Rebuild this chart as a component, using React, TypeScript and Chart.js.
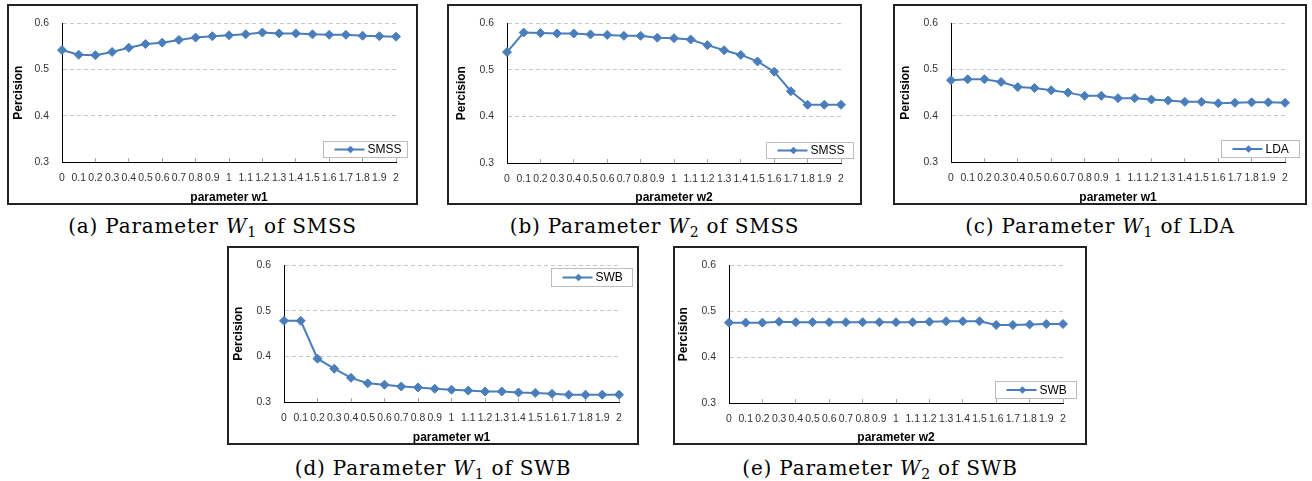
import React, { useEffect, useRef } from "react";
import { Chart, registerables } from "chart.js";

Chart.register(...registerables);

// ---------- data ----------
const wLabels = [
  "0", "0.1", "0.2", "0.3", "0.4", "0.5", "0.6", "0.7", "0.8", "0.9", "1",
  "1.1", "1.2", "1.3", "1.4", "1.5", "1.6", "1.7", "1.8", "1.9", "2",
];

const smssW1 = [
  0.542, 0.532, 0.531, 0.538, 0.547, 0.555, 0.558, 0.564, 0.569, 0.572, 0.574,
  0.576, 0.58, 0.578, 0.578, 0.576, 0.575, 0.575, 0.573, 0.572, 0.571,
];

const smssW2 = [
  0.538, 0.58, 0.579, 0.578, 0.578, 0.576, 0.575, 0.573, 0.573, 0.569, 0.568,
  0.565, 0.553, 0.542, 0.532, 0.518, 0.496, 0.454, 0.425, 0.425, 0.425,
];

const ldaW1 = [
  0.477, 0.479, 0.479, 0.473, 0.462, 0.46, 0.455, 0.45, 0.443, 0.443, 0.438,
  0.438, 0.435, 0.433, 0.43, 0.43, 0.427, 0.428, 0.429, 0.429, 0.428,
];

const swbW1 = [
  0.478, 0.478, 0.395, 0.373, 0.353, 0.341, 0.338, 0.334, 0.332, 0.329, 0.327,
  0.325, 0.323, 0.323, 0.321, 0.32, 0.318, 0.316, 0.316, 0.316, 0.316,
];

const swbW2 = [
  0.475, 0.475, 0.475, 0.477, 0.476, 0.476, 0.476, 0.476, 0.476, 0.476, 0.476,
  0.476, 0.477, 0.478, 0.478, 0.478, 0.47, 0.47, 0.471, 0.472, 0.472,
];

const yTickValues = [0.3, 0.4, 0.5, 0.6];

const yAxisTitle = "Percision";

// ---------- layout / style ----------
const LINE_COLOR = "#4a7ebb";
const SANS = "'Liberation Sans', Arial, sans-serif";

type PanelCfg = {
  tag: string;
  data: number[];
  series: string;
  xTitle: string;
  sub: string;
  box: { x: number; y: number; w: number; h: number };
  plot: { l: number; t: number; r: number; b: number };
  yTitlePad: number;
  legend: { r: number; t: number; w: number; h: number };
  capTop: number;
};

const panels: PanelCfg[] = [
  {
    tag: "(a)", data: smssW1, series: "SMSS", xTitle: "parameter w1", sub: "1",
    box: { x: 7, y: 4, w: 411, h: 201 }, plot: { l: 55, t: 16, r: 22, b: 43 },
    yTitlePad: 4, legend: { r: 11, t: 137, w: 84, h: 16 }, capTop: 214,
  },
  {
    tag: "(b)", data: smssW2, series: "SMSS", xTitle: "parameter w2", sub: "2",
    box: { x: 447, y: 4, w: 415, h: 201 }, plot: { l: 60, t: 17, r: 21, b: 42 },
    yTitlePad: 7, legend: { r: 9, t: 138, w: 87, h: 16 }, capTop: 214,
  },
  {
    tag: "(c)", data: ldaW1, series: "LDA", xTitle: "parameter w1", sub: "1",
    box: { x: 893, y: 4, w: 414, h: 201 }, plot: { l: 58, t: 17, r: 22, b: 43 },
    yTitlePad: 5, legend: { r: 8, t: 136, w: 78, h: 17 }, capTop: 214,
  },
  {
    tag: "(d)", data: swbW1, series: "SWB", xTitle: "parameter w1", sub: "1",
    box: { x: 227, y: 246, w: 412, h: 199 }, plot: { l: 57, t: 16, r: 20, b: 43 },
    yTitlePad: 4, legend: { r: 7, t: 22, w: 81, h: 18 }, capTop: 456,
  },
  {
    tag: "(e)", data: swbW2, series: "SWB", xTitle: "parameter w2", sub: "2",
    box: { x: 673, y: 246, w: 414, h: 199 }, plot: { l: 56, t: 15, r: 24, b: 42 },
    yTitlePad: 3, legend: { r: 11, t: 135, w: 81, h: 17 }, capTop: 456,
  },
];

// legend drawn inside the plot, Excel style
const insideLegend = {
  id: "insideLegend",
  afterDraw(chart: any, _args: any, opts: any) {
    const ctx = chart.ctx as CanvasRenderingContext2D;
    const ds = chart.data.datasets[0];
    const x = Math.round(chart.width - opts.r - opts.w) + 0.5;
    const y = Math.round(opts.t) + 0.5;
    ctx.save();
    ctx.fillStyle = "#ffffff";
    ctx.fillRect(x, y, opts.w, opts.h);
    ctx.strokeStyle = "#bdbdbd";
    ctx.lineWidth = 1;
    ctx.strokeRect(x, y, opts.w, opts.h);
    const cy = y + opts.h / 2;
    ctx.strokeStyle = ds.borderColor;
    ctx.lineWidth = 2;
    ctx.beginPath();
    ctx.moveTo(x + 11, cy);
    ctx.lineTo(x + 41, cy);
    ctx.stroke();
    const mx = x + 27;
    const r = 3.8;
    ctx.fillStyle = ds.borderColor;
    ctx.beginPath();
    ctx.moveTo(mx, cy - r);
    ctx.lineTo(mx + r, cy);
    ctx.lineTo(mx, cy + r);
    ctx.lineTo(mx - r, cy);
    ctx.closePath();
    ctx.fill();
    ctx.fillStyle = "#000000";
    ctx.font = `12px ${SANS}`;
    ctx.textBaseline = "middle";
    ctx.textAlign = "left";
    ctx.fillText(ds.label, x + 44, cy + 0.5);
    ctx.restore();
  },
};

function Panel({ cfg }: { cfg: PanelCfg }) {
  const ref = useRef<HTMLCanvasElement>(null);

  useEffect(() => {
    const chart = new Chart(ref.current as HTMLCanvasElement, {
      type: "line",
      data: {
        labels: wLabels,
        datasets: [
          {
            label: cfg.series,
            data: cfg.data,
            borderColor: LINE_COLOR,
            backgroundColor: LINE_COLOR,
            borderWidth: 2,
            pointStyle: "rectRot",
            pointRadius: 4.5,
            pointBackgroundColor: LINE_COLOR,
            pointBorderColor: LINE_COLOR,
            pointBorderWidth: 1,
            tension: 0,
            clip: false as any,
          },
        ],
      },
      options: {
        animation: false,
        responsive: false,
        layout: { padding: { left: 0, top: cfg.plot.t, right: cfg.plot.r, bottom: 0 } },
        plugins: {
          legend: { display: false },
          tooltip: { enabled: false },
          insideLegend: cfg.legend,
        } as any,
        scales: {
          x: {
            type: "category",
            offset: false,
            grid: {
              display: true,
              drawOnChartArea: false,
              drawTicks: true,
              tickLength: -4,
              color: (c: any) => (c.index % 2 === 0 ? "#a8a8a8" : "rgba(0,0,0,0)"),
            },
            border: { display: true, color: "#000000", width: 1 },
            ticks: {
              autoSkip: false,
              maxRotation: 0,
              minRotation: 0,
              padding: 14,
              color: "#333333",
              font: { family: SANS, size: 10.4 },
            },
            title: {
              display: true,
              text: cfg.xTitle,
              color: "#000000",
              font: { family: SANS, size: 12, weight: "bold" },
              padding: { top: 0, bottom: 0 },
            },
            afterFit: (scale: any) => {
              scale.height = cfg.plot.b;
            },
          },
          y: {
            min: 0.3,
            max: 0.6,
            afterBuildTicks: (scale: any) => {
              scale.ticks = yTickValues.map((v) => ({ value: v }));
            },
            grid: {
              color: "#c6c6c6",
              drawTicks: false,
              lineWidth: 1,
            },
            border: { display: true, color: "#000000", width: 1, dash: [4, 3] },
            ticks: {
              padding: 13,
              color: "#333333",
              font: { family: SANS, size: 10.4 },
              callback: (v: any) => Number(v).toFixed(1),
            },
            title: {
              display: true,
              text: yAxisTitle,
              color: "#000000",
              font: { family: SANS, size: 12, weight: "bold" },
              padding: { top: cfg.yTitlePad, bottom: 0 },
            },
            afterFit: (scale: any) => {
              scale.width = cfg.plot.l;
            },
          },
        },
      } as any,
      plugins: [insideLegend as any],
    });
    return () => chart.destroy();
  }, [cfg]);

  const { box } = cfg;
  return (
    <>
      <canvas
        ref={ref}
        width={box.w}
        height={box.h}
        style={{ position: "absolute", left: box.x, top: box.y, width: box.w, height: box.h, display: "block" }}
      />
      <div
        style={{
          position: "absolute",
          left: box.x,
          top: box.y,
          width: box.w,
          height: box.h,
          border: "2px solid #222222",
          boxSizing: "border-box",
          pointerEvents: "none",
        }}
      />
      <div
        style={{
          position: "absolute",
          left: box.x - 40,
          width: box.w + 80,
          top: cfg.capTop,
          textAlign: "center",
          fontFamily: "'DejaVu Serif', serif",
          fontSize: 20,
          lineHeight: "24px",
          letterSpacing: "0.8px",
          whiteSpace: "nowrap",
          color: "#000",
        }}
      >
        {cfg.tag} Parameter <i>W</i>
        <span style={{ fontSize: "0.7em", position: "relative", top: "0.3em", lineHeight: 0 }}>{cfg.sub}</span> of{" "}
        {cfg.series}
      </div>
    </>
  );
}

export default function App() {
  return (
    <div style={{ position: "absolute", left: 0, top: 0, width: 1312, height: 481, background: "#ffffff", overflow: "hidden" }}>
      {panels.map((p) => (
        <Panel key={p.tag} cfg={p} />
      ))}
    </div>
  );
}
